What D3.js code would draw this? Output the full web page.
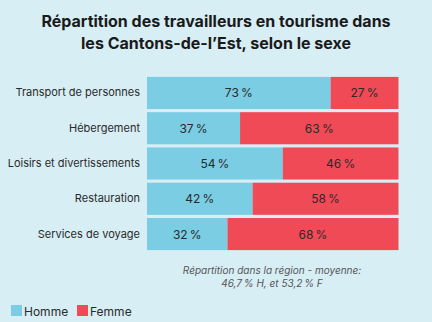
<!DOCTYPE html>
<html><head><meta charset="utf-8">
<script src="https://cdn.jsdelivr.net/npm/d3@7/dist/d3.min.js"></script>
<style>html,body{margin:0;padding:0;background:#d7eef5;}svg{display:block;}</style>
</head><body>
<svg id="c" width="432" height="322"></svg>
<script>
const categories = ["Transport de personnes","Hébergement","Loisirs et divertissements","Restauration","Services de voyage"];
const homme = [73,37,54,42,32];
const femme = [27,63,46,58,68];
const seriesNames = ["Homme","Femme"];
const titleLines = ["Répartition des travailleurs en tourisme dans","les Cantons-de-l’Est, selon le sexe"];
const noteLines = ["Répartition dans la région - moyenne:","46,7\u202F% H, et 53,2\u202F% F"];

const colors = ["#7acde3","#f04a57"];
const svg = d3.select("#c");
svg.append("rect").attr("width",432).attr("height",322).attr("fill","#d7eef5");

const font = "Inter, 'Open Sans', sans-serif";
svg.append("g").selectAll("text").data(titleLines).join("text")
  .attr("x",216).attr("y",(d,i)=>27+i*22).attr("text-anchor","middle")
  .attr("font-family",font).attr("font-weight",700).attr("font-size",16).attr("fill","#1a1a1a")
  .text(d=>d);

const x = d3.scaleLinear().domain([0,100]).range([147,398.5]);
const y = d3.scaleBand().domain(categories).range([75.5,251.5]).paddingInner(0.09).paddingOuter(0.04);

const data = categories.map((c,i)=>({cat:c, vals:[homme[i],femme[i]]}));
const stack = d3.stack().keys([0,1]).value((d,k)=>d.vals[k])(data);

const g = svg.append("g");
stack.forEach((layer,k)=>{
  g.append("g").selectAll("rect").data(layer).join("rect")
    .attr("x",d=>x(d[0])).attr("width",d=>x(d[1])-x(d[0]))
    .attr("y",d=>y(d.data.cat)).attr("height",y.bandwidth())
    .attr("fill",colors[k]);
  g.append("g").selectAll("text").data(layer).join("text")
    .attr("x",d=>(x(d[0])+x(d[1]))/2).attr("y",d=>y(d.data.cat)+y.bandwidth()/2+4.5)
    .attr("text-anchor","middle").attr("font-family",font).attr("font-size",12)
    .attr("fill","#2a2a2a").text(d=>(d[1]-d[0])+"\u2009%");
});

const yAxis = d3.axisLeft(y).tickSize(0).tickPadding(7);
const ag = svg.append("g").attr("transform","translate(147,0)").call(yAxis);
ag.select(".domain").remove();
ag.selectAll("text").attr("font-family",font).attr("font-size",11).attr("fill","#2a2a2a");

svg.append("g").selectAll("text").data(noteLines).join("text")
  .attr("x",272).attr("y",(d,i)=>274+i*13).attr("text-anchor","middle")
  .attr("font-family",font).attr("font-style","italic").attr("font-size",10).attr("fill","#555")
  .text(d=>d);

const lg = svg.append("g").selectAll("g").data(seriesNames).join("g")
  .attr("transform",(d,i)=>`translate(${11+i*66},305)`);
lg.append("rect").attr("width",11).attr("height",11).attr("fill",(d,i)=>colors[i]);
lg.append("text").attr("x",13).attr("y",11).attr("font-family",font).attr("font-size",12).attr("fill","#2a2a2a").text(d=>d);
</script>
</body></html>
